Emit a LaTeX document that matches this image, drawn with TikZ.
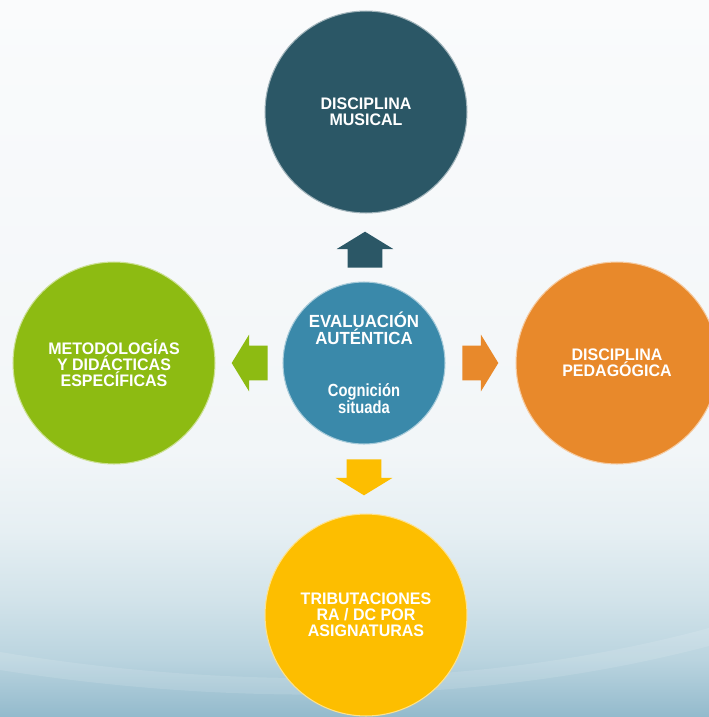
\documentclass[tikz,border=0pt]{standalone}
\usepackage{fontspec}
\setmainfont{Liberation Sans}[FakeStretch=0.96]
\newfontfamily\narrowsans{Liberation Sans}[FakeStretch=0.84]
\usepackage{xcolor}
\usepackage{tikz}
\usetikzlibrary{shapes.arrows, positioning}

\definecolor{musical}{HTML}{2B5766}
\definecolor{autentica}{HTML}{3A89AA}
\definecolor{metodo}{HTML}{8DBB12}
\definecolor{pedagog}{HTML}{E8892B}
\definecolor{tribut}{HTML}{FDBE00}
\definecolor{bgtop}{HTML}{FAFBFC}
\definecolor{bgA}{HTML}{F2F6F8}
\definecolor{bgB}{HTML}{E6EFF3}
\definecolor{bgC}{HTML}{D2E3EA}
\definecolor{bgD}{HTML}{BAD4DF}
\definecolor{bgE}{HTML}{93BACC}

\pgfdeclareverticalshading{bgshade}{100bp}{color(0bp)=(bgE); color(25bp)=(bgE);
  color(29bp)=(bgD); color(33.2bp)=(bgC); color(38bp)=(bgB); color(43.6bp)=(bgA);
  color(75bp)=(bgtop); color(100bp)=(bgtop)}

\tikzset{
  bubble/.style={circle, minimum size=4.04cm, inner sep=0pt, fill=#1,
    draw=white!55!#1, line width=0.6pt, text=white, align=center,
    font=\bfseries\fontsize{9.5}{9.1}\selectfont},
  blockarrow/.style={single arrow, fill=#1, draw=none, inner xsep=0pt,
    inner ysep=0.34cm, minimum height=0.72cm, single arrow head extend=0.22cm,
    single arrow tip angle=117}
}

\begin{document}
\begin{tikzpicture}[x=0.02cm, y=-0.02cm]
  \useasboundingbox (0,0) rectangle (709,717);
  \clip (0,0) rectangle (709,717);
  \fill[shading=bgshade] (0,0) rectangle (709,717);
  \fill[white, opacity=0.12] (0,652) .. controls (230,690) and (480,690) .. (709,628)
    -- (709,646) .. controls (480,706) and (230,706) .. (0,670) -- cycle;

  \node[bubble=musical] (musical) at (366,112) {DISCIPLINA\\MUSICAL};
  \node[bubble=metodo] (metodo) at (114,363) {METODOLOGÍAS\\Y DIDÁCTICAS\\ESPECÍFICAS};
  \node[bubble=pedagog] (pedagog) at (617,363) {DISCIPLINA\\PEDAGÓGICA};
  \node[bubble=tribut] (tribut) at (366,615) {TRIBUTACIONES\\RA / DC POR\\ASIGNATURAS};
  \node[bubble=autentica, minimum size=3.24cm, font=\bfseries\fontsize{10}{9.4}\selectfont]
    (autentica) at (364,363)
    {EVALUACIÓN\\AUTÉNTICA\\[20.5pt]{\narrowsans Cognición}\\{\narrowsans situada}};

  \node[blockarrow=musical, rotate=90] (toMusical) at (365,255) {};
  \node[blockarrow=metodo, rotate=180] (toMetodo) at (255,363) {};
  \node[blockarrow=pedagog] (toPedagog) at (475,363) {};
  \node[blockarrow=tribut, rotate=270] (toTribut) at (364,472) {};
\end{tikzpicture}
\end{document}
